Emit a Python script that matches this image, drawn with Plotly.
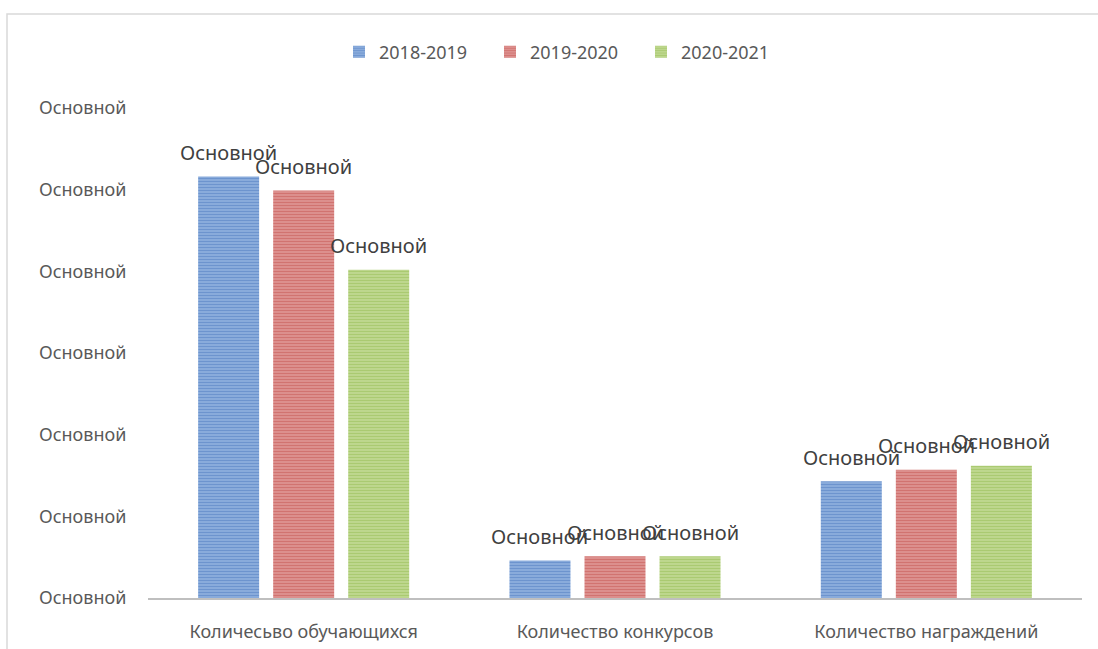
import plotly.graph_objects as go

categories = ["Количесьво обучающихся", "Количество конкурсов", "Количество награждений"]
seasons = ["2018-2019", "2019-2020", "2020-2021"]
values_2018 = [516, 46, 143]
values_2019 = [499, 51, 157]
values_2020 = [402, 51, 162]
tick_values = [0, 100, 200, 300, 400, 500, 600]
tick_text = ["Основной"] * len(tick_values)
label_text = "Основной"

# (dark stripe, light stripe)
colors = [("#3f70b9", "#9bb9e3"), ("#bd4542", "#e4a19f"), ("#8cb543", "#c9df9f")]
series = [values_2018, values_2019, values_2020]

W, H = 1098, 649
M = dict(l=148, r=16, t=108, b=51)
BARGAP = 0.277
GROUPGAP = 0.187
FONT = "Noto Sans, Open Sans, sans-serif"
GREY = "#595959"

fig = go.Figure()
for name, vals, (dark, light) in zip(seasons, series, colors):
    fig.add_trace(go.Bar(
        x=categories, y=vals, name=name,
        marker=dict(
            color=light,
            line=dict(width=0),
            pattern=dict(shape="-", fgcolor=dark, bgcolor=light, size=3, solidity=0.6),
        ),
        hovertemplate="%{x}: %{y}<extra>" + name + "</extra>",
    ))

# data labels, placed over each bar of the group
plot_w = W - M["l"] - M["r"]
slot = plot_w / len(categories) * (1 - BARGAP) / len(seasons)
annotations = []
for i, vals in enumerate(series):
    shift = (i - (len(seasons) - 1) / 2) * slot
    for cat, v in zip(categories, vals):
        annotations.append(dict(
            x=cat, y=v, text=label_text, showarrow=False,
            xshift=shift, yshift=24,
            font=dict(family=FONT, size=20, color="#404040"),
        ))

fig.update_layout(
    width=W, height=H,
    margin=M,
    barmode="group",
    bargap=BARGAP,
    bargroupgap=GROUPGAP,
    paper_bgcolor="white",
    plot_bgcolor="white",
    font=dict(family=FONT, size=18, color=GREY),
    showlegend=True,
    legend=dict(
        orientation="h", xanchor="center", x=0.447, yanchor="middle", y=1.114,
        font=dict(size=18, color=GREY),
        itemwidth=30, entrywidth=106,
    ),
    annotations=annotations,
    shapes=[dict(
        type="rect", xref="paper", yref="paper",
        x0=(7 - M["l"]) / plot_w, x1=1.2,
        y0=-0.3, y1=(H - M["b"] - 14) / (H - M["t"] - M["b"]),
        line=dict(color="#d9d9d9", width=1.5), layer="below",
    )],
    xaxis=dict(
        showline=True, linecolor="#bfbfbf", linewidth=2,
        showgrid=False, ticks="", ticklabelstandoff=16, automargin=False,
        tickfont=dict(size=18, color=GREY),
    ),
    yaxis=dict(
        range=[0, 600], tickvals=tick_values, ticktext=tick_text,
        showgrid=False, zeroline=False, showline=False, automargin=False,
        ticks="outside", ticklen=17, tickcolor="rgba(0,0,0,0)",
        tickfont=dict(size=18, color=GREY),
    ),
)

# drop the page's default 8px body margin so the figure sits at the window corner
fig.write_html(
    "out.html",
    config={"displayModeBar": False},
    post_script="document.body.style.margin='0';",
)
